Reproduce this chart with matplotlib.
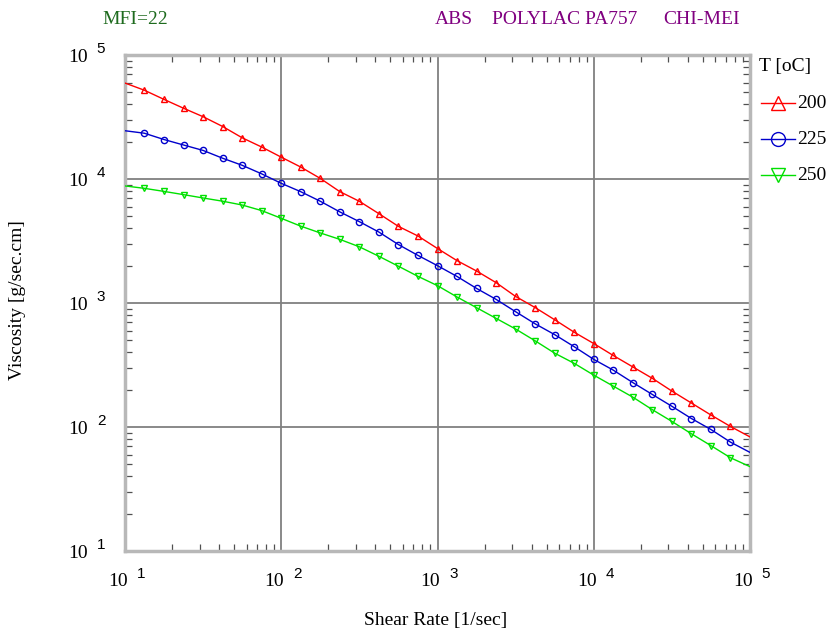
import matplotlib
matplotlib.use('Agg')
import matplotlib.pyplot as plt
from matplotlib.lines import Line2D
from matplotlib.ticker import LogLocator, NullFormatter, FixedLocator

shear_rate = [10, 13.3, 17.8, 23.7, 31.6, 42.2, 56.2, 75.0, 100, 133, 178, 237, 316,
              422, 562, 750, 1000, 1330, 1780, 2370, 3160, 4220, 5620, 7500, 10000,
              13300, 17800, 23700, 31600, 42200, 56200, 75000, 100000]
visc_200 = [59400, 52000, 43800, 37200, 31800, 26500, 21500, 18100, 15000, 12500,
            10100, 7910, 6610, 5250, 4150, 3470, 2750, 2200, 1810, 1460,
            1130, 918, 733, 581, 471, 378, 305, 247, 195, 156, 125, 101, 83.2]
visc_225 = [24500, 23400, 20800, 18800, 17000, 14700, 12900, 11000, 9230, 7910,
            6610, 5430, 4530, 3730, 2960, 2420, 2000, 1640, 1310, 1070,
            851, 679, 556, 444, 351, 288, 228, 183, 147, 117, 95.5, 75.5, 62.4]
visc_250 = [8790, 8410, 7940, 7480, 7030, 6620, 6170, 5560, 4820, 4170,
            3670, 3260, 2840, 2380, 1980, 1640, 1380, 1120, 916, 752,
            617, 495, 394, 326, 262, 214, 174, 138, 111, 88.1, 70.8, 56.5, 47.9]
temps = ['200', '225', '250']
x_exponents = [1, 2, 3, 4, 5]
y_exponents = [1, 2, 3, 4, 5]

colors = ['#ff0000', '#0000cc', '#00e000']
markers = ['^', 'o', 'v']
series = [visc_200, visc_225, visc_250]

SERIF = ['Liberation Serif', 'DejaVu Serif']
SANS = ['Liberation Sans', 'DejaVu Sans']

fig = plt.figure(figsize=(8.36, 6.37), dpi=100)
fig.patch.set_facecolor('white')
W, H = 836, 637
ax = fig.add_axes([125 / W, 1 - 551 / H, 625 / W, 496 / H])
ax.set_xscale('log')
ax.set_yscale('log')
ax.set_xlim(10, 1e5)
ax.set_ylim(10, 1e5)

for vals, c, m in zip(series, colors, markers):
    ax.plot(shear_rate, vals, color=c, lw=1.0, marker=m, mfc='none', mec=c,
            ms=4.5, mew=1.0, markevery=slice(1, len(shear_rate) - 1), zorder=3)

# grid at decades
ax.xaxis.set_major_locator(FixedLocator([10.0 ** e for e in x_exponents]))
ax.yaxis.set_major_locator(FixedLocator([10.0 ** e for e in y_exponents]))
ax.xaxis.set_minor_locator(LogLocator(base=10, subs=range(2, 10), numticks=20))
ax.yaxis.set_minor_locator(LogLocator(base=10, subs=range(2, 10), numticks=20))
ax.xaxis.set_minor_formatter(NullFormatter())
ax.yaxis.set_minor_formatter(NullFormatter())
ax.set_xticklabels([])
ax.set_yticklabels([])
ax.grid(True, which='major', color='#808080', lw=1.3)
ax.tick_params(which='major', length=0)
ax.tick_params(which='minor', direction='in', length=5, width=0.9, color='#505050',
               top=True, right=True, bottom=True, left=True)
for sp in ax.spines.values():
    sp.set_color('#b8b8b8')
    sp.set_linewidth(2.5)

# tick labels (10 with superscript exponent)
for e in x_exponents:
    ax.annotate('10', xy=(10.0 ** e, 0), xycoords=('data', 'axes fraction'),
                xytext=(-7, -31), textcoords='offset pixels', ha='center', va='center',
                fontsize=14, family=SERIF, annotation_clip=False)
    ax.annotate(str(e), xy=(10.0 ** e, 0), xycoords=('data', 'axes fraction'),
                xytext=(16, -23), textcoords='offset pixels', ha='center', va='center',
                fontsize=11, family=SANS, annotation_clip=False)
for e in y_exponents:
    ax.annotate('10', xy=(0, 10.0 ** e), xycoords=('axes fraction', 'data'),
                xytext=(-47, -3), textcoords='offset pixels', ha='center', va='center',
                fontsize=14, family=SERIF, annotation_clip=False)
    ax.annotate(str(e), xy=(0, 10.0 ** e), xycoords=('axes fraction', 'data'),
                xytext=(-24, 6), textcoords='offset pixels', ha='center', va='center',
                fontsize=11, family=SANS, annotation_clip=False)

fig.text(436 / W, 1 - 620 / H, 'Shear Rate [1/sec]', ha='center', va='center',
         fontsize=14, family=SERIF)
fig.text(18 / W, 1 - 300 / H, 'Viscosity [g/sec.cm]', rotation=90, ha='center',
         va='center', fontsize=14, family=SERIF)

# header texts
fig.text(102 / W, 1 - 20 / H, 'MFI=22', color='#1e6b1e', fontsize=14, family=SERIF,
         ha='left', va='center')
fig.text(435 / W, 1 - 20 / H, 'ABS', color='#800080', fontsize=14, family=SERIF,
         ha='left', va='center')
fig.text(492 / W, 1 - 20 / H, 'POLYLAC PA757', color='#800080', fontsize=14,
         family=SERIF, ha='left', va='center')
fig.text(740 / W, 1 - 20 / H, 'CHI-MEI', color='#800080', fontsize=14, family=SERIF,
         ha='right', va='center')

# legend
fig.text(759 / W, 1 - 66 / H, 'T [oC]', fontsize=14, family=SERIF, ha='left', va='center')
for i, (t, c, m) in enumerate(zip(temps, colors, markers)):
    yy = 1 - (103 + 36 * i) / H
    fig.add_artist(Line2D([761 / W, 795 / W], [yy, yy], color=c, lw=1.0,
                          transform=fig.transFigure))
    fig.add_artist(Line2D([778 / W], [yy], color=c, marker=m, mfc='none', mec=c,
                          ms=10, mew=1.0, transform=fig.transFigure))
    fig.text(797 / W, yy, t, fontsize=14, family=SERIF, ha='left', va='center')

fig.savefig('out.png', dpi=100, facecolor='white')
